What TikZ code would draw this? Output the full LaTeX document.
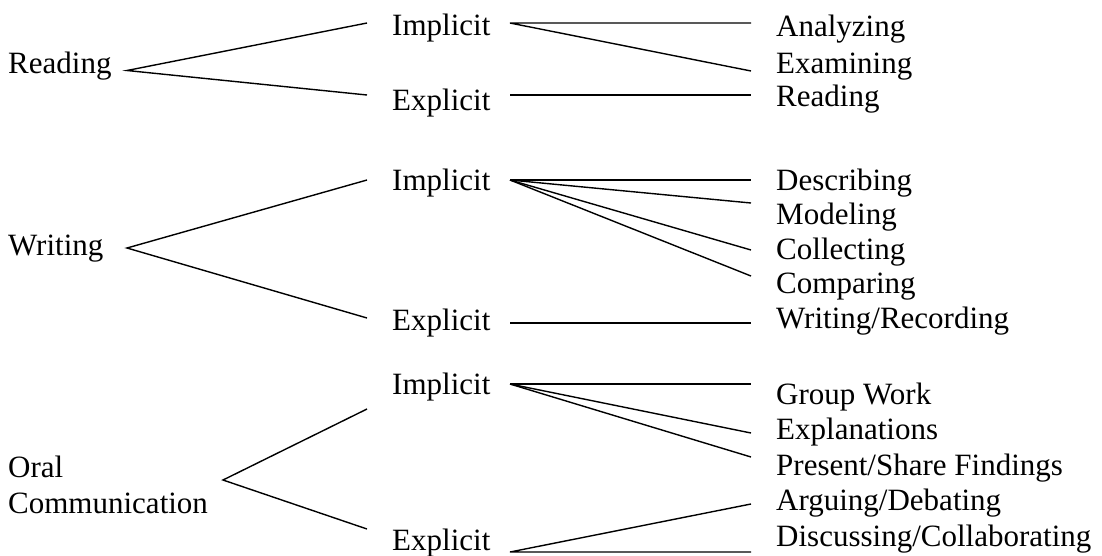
\documentclass[tikz,border=0pt]{standalone}
\usepackage{fontspec}
\setmainfont{Liberation Serif}
\begin{document}
\begin{tikzpicture}[x=1pt,y=-1pt,
  lbl/.style={anchor=base west,inner sep=0pt,font=\fontsize{31}{35.5}\selectfont},
  conn/.style={line width=1.4pt}]
\useasboundingbox (0,0) rectangle (1102,555);
% ---------- Reading ----------
\node[lbl] (R) at (8,73) {Reading};
\node[lbl] (RI) at (392,35) {Implicit};
\node[lbl] (RE) at (392,110) {Explicit};
\node[lbl] (RA1) at (776,36) {Analyzing};
\node[lbl] (RA2) at (776,73) {Examining};
\node[lbl] (RB1) at (776,106) {Reading};
\coordinate (Rv) at (127,70.5);
\coordinate (RIl) at (367,23); \coordinate (REl) at (367,95);
\coordinate (RIr) at (510,23); \coordinate (REr) at (510,95);
\coordinate (RA1e) at (751,23); \coordinate (RA2e) at (751,71);
\coordinate (RB1e) at (751,95);
\draw[conn] (RIl) -- (Rv) -- (REl);
\draw[conn] (RA1e) -- (RIr) -- (RA2e);
\draw[conn] (REr) -- (RB1e);
% ---------- Writing ----------
\node[lbl] (W) at (8,255) {Writing};
\node[lbl] (WI) at (392,190) {Implicit};
\node[lbl] (WE) at (392,330) {Explicit};
\node[lbl] (WA1) at (776,190) {Describing};
\node[lbl] (WA2) at (776,224.5) {Modeling};
\node[lbl] (WA3) at (776,259) {Collecting};
\node[lbl] (WA4) at (776,293.5) {Comparing};
\node[lbl] (WB1) at (776,328) {Writing/Recording};
\coordinate (Wv) at (127,248);
\coordinate (WIl) at (367,180); \coordinate (WEl) at (367,318);
\coordinate (WIr) at (510,180); \coordinate (WEr) at (510,323);
\coordinate (WA1e) at (751,180); \coordinate (WA2e) at (751,203);
\coordinate (WA3e) at (751,250); \coordinate (WA4e) at (751,276);
\coordinate (WB1e) at (751,323);
\draw[conn] (WIl) -- (Wv) -- (WEl);
\draw[conn] (WIr) -- (WA1e);
\draw[conn] (WIr) -- (WA2e);
\draw[conn] (WIr) -- (WA3e);
\draw[conn] (WIr) -- (WA4e);
\draw[conn] (WEr) -- (WB1e);
% ---------- Oral Communication ----------
\node[lbl] (O1) at (8,477) {Oral};
\node[lbl] (O2) at (8,513) {Communication};
\node[lbl] (OI) at (392,394) {Implicit};
\node[lbl] (OE) at (392,550) {Explicit};
\node[lbl] (OA1) at (776,404) {Group Work};
\node[lbl] (OA2) at (776,439.5) {Explanations};
\node[lbl] (OA3) at (776,475) {Present/Share Findings};
\node[lbl] (OB1) at (776,510.5) {Arguing/Debating};
\node[lbl] (OB2) at (776,546) {Discussing/Collaborating};
\coordinate (Ov) at (223,480);
\coordinate (OIl) at (367,409); \coordinate (OEl) at (367,529);
\coordinate (OIr) at (510,384); \coordinate (OEr) at (510,552);
\coordinate (OA1e) at (751,384); \coordinate (OA2e) at (751,433);
\coordinate (OA3e) at (751,457); \coordinate (OB1e) at (751,504);
\coordinate (OB2e) at (751,552);
\draw[conn] (OIl) -- (Ov) -- (OEl);
\draw[conn] (OIr) -- (OA1e);
\draw[conn] (OIr) -- (OA2e);
\draw[conn] (OIr) -- (OA3e);
\draw[conn] (OB1e) -- (OEr) -- (OB2e);
\end{tikzpicture}
\end{document}
